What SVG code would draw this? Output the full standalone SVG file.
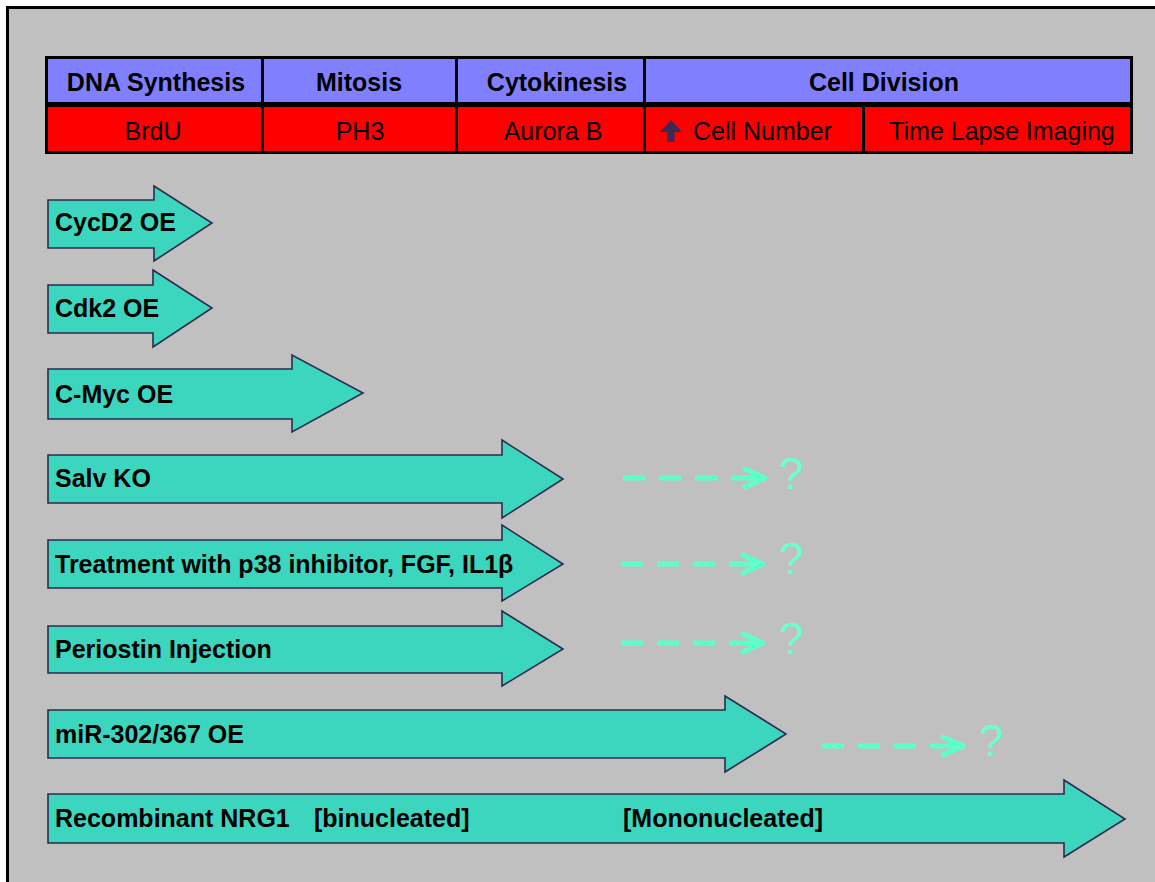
<svg xmlns="http://www.w3.org/2000/svg" width="1155" height="882" viewBox="0 0 1155 882">
<style>
.hd{fill:#8080FF;stroke:#000;stroke-width:3}
.rd{fill:#FF0000;stroke:#000;stroke-width:3}
.ht{font-family:"Liberation Sans",Arial,sans-serif;font-weight:bold;font-size:25px;fill:#000;text-anchor:middle}
.rt{font-family:"Liberation Sans",Arial,sans-serif;font-size:25px;fill:#000;text-anchor:middle}
.arr{fill:#3CD6BF;stroke:#2E2A50;stroke-width:1.6;stroke-linejoin:miter}
.lb{font-family:"Liberation Sans",Arial,sans-serif;font-weight:bold;font-size:25px;fill:#000}
.dl{fill:none;stroke:#5EFFC8;stroke-width:5;stroke-dasharray:22 14 22 14 22 14 60}
.q{font-family:"Liberation Sans",Arial,sans-serif;font-size:44px;fill:#6CFFCC}
</style>
<defs>
<marker id="chev" viewBox="0 0 26 24" refX="23" refY="12" markerWidth="26" markerHeight="24" markerUnits="userSpaceOnUse" orient="auto">
<path d="M3,3 L23,12 L3,21" fill="none" stroke="#5EFFC8" stroke-width="5" stroke-linecap="round" stroke-linejoin="round" stroke-dasharray="none"/>
</marker>
</defs>
<rect x="0" y="0" width="1155" height="882" fill="#FFFFFF"/>
<rect x="7.5" y="7.5" width="1200" height="1000" fill="#C0C0C0" stroke="#000" stroke-width="3"/>

<g id="table">
<rect class="hd" x="46.5" y="57.5" width="216" height="46"/>
<rect class="hd" x="262.5" y="57.5" width="194" height="46"/>
<rect class="hd" x="456.5" y="57.5" width="188" height="46"/>
<rect class="hd" x="644.5" y="57.5" width="487" height="46"/>
<rect class="rd" x="46.5" y="105.5" width="216" height="47"/>
<rect class="rd" x="262.5" y="105.5" width="194" height="47"/>
<rect class="rd" x="456.5" y="105.5" width="188" height="47"/>
<rect class="rd" x="644.5" y="105.5" width="219" height="47"/>
<rect class="rd" x="863.5" y="105.5" width="268" height="47"/>
<text class="ht" x="156" y="91">DNA Synthesis</text>
<text class="ht" x="359" y="91">Mitosis</text>
<text class="ht" x="557" y="91">Cytokinesis</text>
<text class="ht" x="884" y="91">Cell Division</text>
<text class="rt" x="153" y="140">BrdU</text>
<text class="rt" x="360" y="140">PH3</text>
<text class="rt" x="553" y="140">Aurora B</text>
<path d="M660,132 L671,120 L682,132 L674.5,132 L674.5,142 L667.5,142 L667.5,132 Z" fill="#3A2A55"/>
<text class="rt" x="693" y="140" style="text-anchor:start">Cell Number</text>
<text class="rt" x="1002" y="140">Time Lapse Imaging</text>
</g>

<g id="cycd2">
<polygon class="arr" points="48,200 154,200 154,186 212,223 154,261 154,248 48,248"/>
<text class="lb" x="55" y="231">CycD2 OE</text>
</g>
<g id="cdk2">
<polygon class="arr" points="48,285 153,285 153,270 212,308 153,347 153,333 48,333"/>
<text class="lb" x="55" y="317">Cdk2 OE</text>
</g>
<g id="cmyc">
<polygon class="arr" points="48,369 292,369 292,355 363,393 292,432 292,419 48,419"/>
<text class="lb" x="55" y="403">C-Myc OE</text>
</g>
<g id="salv">
<polygon class="arr" points="48,455 502,455 502,440 563,479 502,518 502,503 48,503"/>
<text class="lb" x="55" y="487">Salv KO</text>
</g>
<g id="treatment">
<polygon class="arr" points="48,540 502,540 502,525 563,564 502,601 502,588 48,588"/>
<text class="lb" x="55" y="573">Treatment with p38 inhibitor, FGF, IL1β</text>
</g>
<g id="periostin">
<polygon class="arr" points="48,626 502,626 502,611 563,649 502,686 502,673 48,673"/>
<text class="lb" x="55" y="658">Periostin Injection</text>
</g>
<g id="mir">
<polygon class="arr" points="48,710 725,710 725,696 786,734 725,772 725,758 48,758"/>
<text class="lb" x="55" y="743">miR-302/367 OE</text>
</g>
<g id="nrg1">
<polygon class="arr" points="48,794 1064,794 1064,780 1125,819 1064,857 1064,843 48,843"/>
<text class="lb" x="55" y="827">Recombinant NRG1</text>
<text class="lb" x="314" y="827">[binucleated]</text>
<text class="lb" x="623" y="827">[Mononucleated]</text>
</g>

<g id="connectors">
<line class="dl" x1="623" y1="478" x2="765" y2="478" marker-end="url(#chev)"/>
<line class="dl" x1="621" y1="564" x2="763" y2="564" marker-end="url(#chev)"/>
<line class="dl" x1="621" y1="643" x2="763" y2="643" marker-end="url(#chev)"/>
<line class="dl" x1="822" y1="746" x2="963" y2="746" marker-end="url(#chev)"/>
</g>
<g id="questions">
<text class="q" x="779" y="489">?</text>
<text class="q" x="779" y="574">?</text>
<text class="q" x="779" y="654">?</text>
<text class="q" x="979" y="756">?</text>
</g>
</svg>
